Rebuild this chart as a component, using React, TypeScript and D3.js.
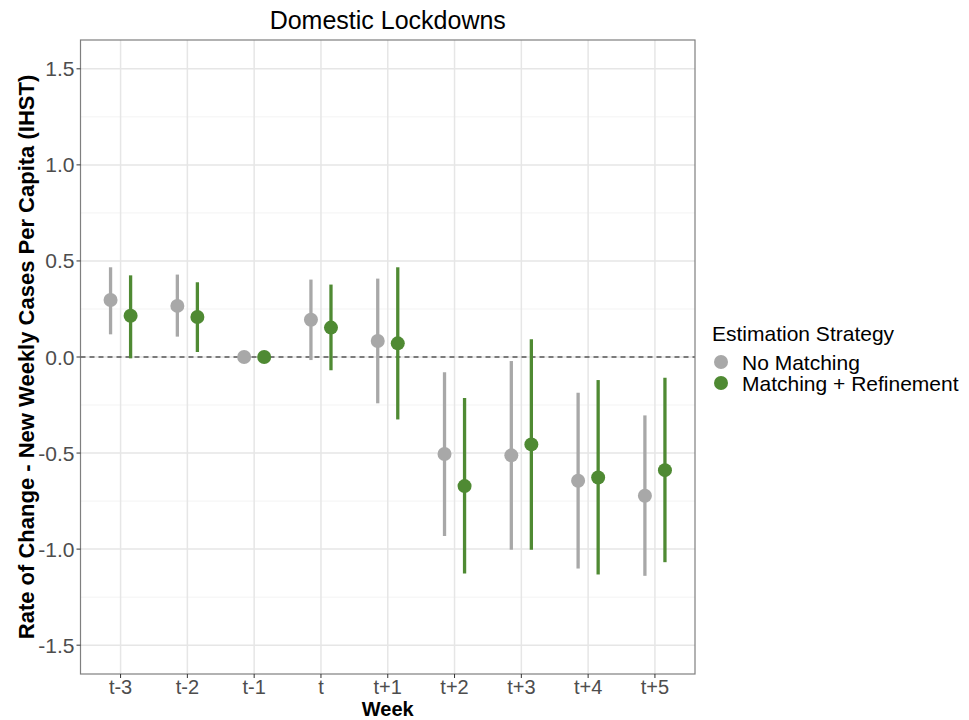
import React from "react";
import * as d3 from "d3";

const weeks = ["t-3", "t-2", "t-1", "t", "t+1", "t+2", "t+3", "t+4", "t+5"];
const strategies = ["No Matching", "Matching + Refinement"];
const noMatchEst = [0.297, 0.266, 0, 0.194, 0.083, -0.505, -0.512, -0.644, -0.722];
const noMatchLo = [0.118, 0.106, 0, -0.016, -0.241, -0.932, -1.003, -1.101, -1.139];
const noMatchHi = [0.467, 0.429, 0, 0.403, 0.408, -0.08, -0.021, -0.186, -0.304];
const matchEst = [0.215, 0.208, 0, 0.153, 0.071, -0.672, -0.455, -0.627, -0.589];
const matchLo = [-0.007, 0.026, 0, -0.069, -0.325, -1.127, -1.003, -1.132, -1.068];
const matchHi = [0.425, 0.389, 0, 0.377, 0.467, -0.214, 0.092, -0.12, -0.108];
const yTicks = [-1.5, -1.0, -0.5, 0.0, 0.5, 1.0, 1.5];
const yMinor = [-1.25, -0.75, -0.25, 0.25, 0.75, 1.25];

const colors = ["#A8A8A8", "#4F8A33"];
const font = "'Liberation Sans', Arial, Helvetica, sans-serif";

export default function App() {
  const W = 969, H = 720;
  const left = 80.5, right = 695, top = 40, bottom = 674;
  const y = d3.scaleLinear().domain([-1.65, 1.65]).range([bottom, top]);
  const n = weeks.length;
  const x = d3.scaleLinear().domain([-0.6, n - 1 + 0.6]).range([left, right]);
  const dodge = 0.15;
  const series = [
    { est: noMatchEst, lo: noMatchLo, hi: noMatchHi, off: -dodge, color: colors[0] },
    { est: matchEst, lo: matchLo, hi: matchHi, off: dodge, color: colors[1] },
  ];
  return (
    <svg width={W} height={H} style={{ position: "absolute", left: 0, top: 0, background: "#fff" }} fontFamily={font}>
      <rect x={0} y={0} width={W} height={H} fill="#fff" />
      {yMinor.map((v) => (
        <line key={"mn" + v} x1={left} x2={right} y1={y(v)} y2={y(v)} stroke="#F3F3F3" strokeWidth={1} />
      ))}
      {yTicks.map((v) => (
        <line key={"mj" + v} x1={left} x2={right} y1={y(v)} y2={y(v)} stroke="#E6E6E6" strokeWidth={1.5} />
      ))}
      {weeks.map((w, i) => (
        <line key={"vx" + w} x1={x(i)} x2={x(i)} y1={top} y2={bottom} stroke="#E6E6E6" strokeWidth={1.5} />
      ))}
      <line x1={left} x2={right} y1={y(0)} y2={y(0)} stroke="#555" strokeWidth={1.3} strokeDasharray="5,4" />
      {series.map((s, si) =>
        weeks.map((w, i) => (
          <g key={si + "-" + w}>
            {s.hi[i] !== s.lo[i] && (
              <line x1={x(i + s.off)} x2={x(i + s.off)} y1={y(s.hi[i])} y2={y(s.lo[i])} stroke={s.color} strokeWidth={3.3} />
            )}
            <circle cx={x(i + s.off)} cy={y(s.est[i])} r={7} fill={s.color} />
          </g>
        ))
      )}
      <rect x={left} y={top} width={right - left} height={bottom - top} fill="none" stroke="#7F7F7F" strokeWidth={1.2} />
      {yTicks.map((v) => (
        <g key={"yt" + v}>
          <line x1={left - 4} x2={left} y1={y(v)} y2={y(v)} stroke="#333" strokeWidth={1} />
          <text x={left - 6} y={y(v)} dy="0.36em" textAnchor="end" fontSize={21} fill="#4D4D4D">
            {v.toFixed(1)}
          </text>
        </g>
      ))}
      {weeks.map((w, i) => (
        <g key={"xt" + w}>
          <line x1={x(i)} x2={x(i)} y1={bottom} y2={bottom + 4} stroke="#333" strokeWidth={1} />
          <text x={x(i)} y={bottom + 20} textAnchor="middle" fontSize={20} fill="#4D4D4D">
            {w}
          </text>
        </g>
      ))}
      <text x={(left + right) / 2} y={716} textAnchor="middle" fontSize={20} fontWeight="bold" fill="#000">
        Week
      </text>
      <text
        transform={`translate(34, ${(top + bottom) / 2}) rotate(-90)`}
        textAnchor="middle"
        fontSize={22}
        fontWeight="bold"
        fill="#000"
      >
        Rate of Change - New Weekly Cases Per Capita (IHST)
      </text>
      <text x={(left + right) / 2} y={29} textAnchor="middle" fontSize={25} fill="#000">
        Domestic Lockdowns
      </text>
      <text x={712} y={341} fontSize={21} fill="#000">
        Estimation Strategy
      </text>
      {strategies.map((s, i) => (
        <g key={"lg" + s}>
          <circle cx={721} cy={362 + i * 21} r={7} fill={colors[i]} />
          <text x={742} y={362 + i * 21} dy="0.36em" fontSize={21} fill="#000">
            {s}
          </text>
        </g>
      ))}
    </svg>
  );
}
